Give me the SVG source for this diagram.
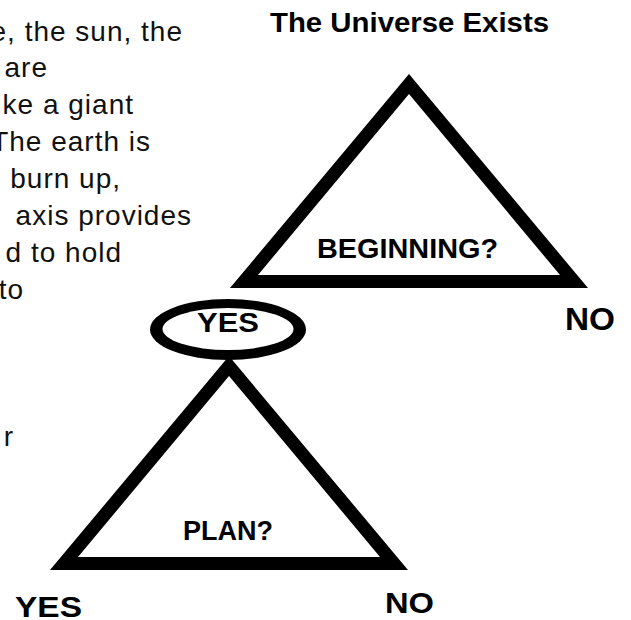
<svg xmlns="http://www.w3.org/2000/svg" width="631" height="620" viewBox="0 0 631 620">
  <style>
    .body { font-family: "Liberation Sans", Arial, sans-serif; font-size: 28px; fill: #111; letter-spacing: 1px; text-anchor: end; }
    .lbl { font-family: "Liberation Sans", Arial, sans-serif; font-weight: bold; fill: #000; text-anchor: middle; }
    .tri { fill: #000; fill-rule: evenodd; }
  </style>
  <rect width="631" height="620" fill="#fff"/>

  <g id="body-text">
    <text class="body" x="183" y="40.5">e, the sun, the</text>
    <text class="body" x="48" y="77.4">are</text>
    <text class="body" x="134" y="114.2">ke a giant</text>
    <text class="body" x="151" y="151.1">The earth is</text>
    <text class="body" x="121" y="187.9">burn up,</text>
    <text class="body" x="192" y="224.8">axis provides</text>
    <text class="body" x="122" y="261.6">d to hold</text>
    <text class="body" x="24" y="298.5">to</text>
    <text class="body" x="14" y="446">r</text>
  </g>

  <g id="title">
    <text class="lbl" x="409.5" y="32" font-size="28" textLength="279" lengthAdjust="spacingAndGlyphs">The Universe Exists</text>
  </g>

  <g id="connectors"></g>

  <g id="node-beginning">
    <path class="tri" d="M409 74 L588 288 L230 288 Z M409 94 L258 275 L560 275 Z"/>
    <text class="lbl" x="407.5" y="257.5" font-size="28" textLength="181" lengthAdjust="spacingAndGlyphs">BEGINNING?</text>
  </g>

  <g id="node-plan">
    <path class="tri" d="M229 356 L408 570 L50 570 Z M229 376 L78 557 L380 557 Z"/>
    <text class="lbl" x="228" y="540" font-size="27" textLength="90" lengthAdjust="spacingAndGlyphs">PLAN?</text>
  </g>

  <g id="node-yes-1">
    <ellipse cx="228" cy="329.5" rx="78" ry="30.5" fill="#000"/>
    <ellipse cx="228" cy="329" rx="65.5" ry="21" fill="#fff"/>
    <text class="lbl" x="228" y="332" font-size="27" textLength="62" lengthAdjust="spacingAndGlyphs">YES</text>
  </g>

  <g id="node-no-1">
    <text class="lbl" x="590" y="330" font-size="31" textLength="50" lengthAdjust="spacingAndGlyphs">NO</text>
  </g>

  <g id="node-yes-2">
    <text class="lbl" x="48.5" y="617" font-size="30" textLength="67" lengthAdjust="spacingAndGlyphs">YES</text>
  </g>

  <g id="node-no-2">
    <text class="lbl" x="409.5" y="613" font-size="30" textLength="49" lengthAdjust="spacingAndGlyphs">NO</text>
  </g>
</svg>
